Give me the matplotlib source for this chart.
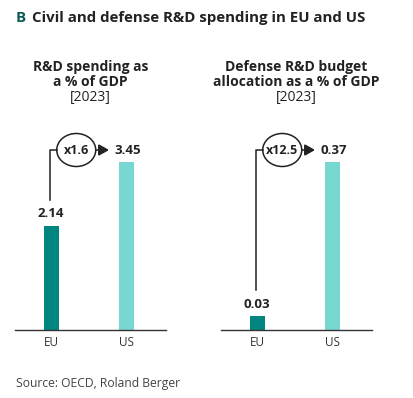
import matplotlib
matplotlib.use("Agg")
import matplotlib.pyplot as plt
from matplotlib.patches import Ellipse
from matplotlib.transforms import IdentityTransform

plt.rcParams['font.family'] = ['Open Sans', 'DejaVu Sans']

# data
regions = ["EU", "US"]
rd_gdp = [2.14, 3.45]
defense_rd_gdp = [0.03, 0.37]
ratios = ["x1.6", "x12.5"]
panel_titles = ["R&D spending as\na % of GDP", "Defense R&D budget\nallocation as a % of GDP"]
year = "[2023]"

EU_COL = "#00857f"
US_COL = "#79d7d1"
TXT = "#222222"

W, H = 414, 398
fig = plt.figure(figsize=(W / 100, H / 100), dpi=100)

def fx(px):
    return px / W

def fy(py):
    return 1 - py / H

fig.text(fx(16), fy(18), "B", color="#0d5c58", fontsize=10.8, fontweight="bold", va="center")
fig.text(fx(32), fy(18), "Civil and defense R&D spending in EU and US", color=TXT,
         fontsize=10.8, fontweight="bold", va="center")

# axes: baseline at y=330 px, top at 130 px
ax_bottom = fy(330)
ax_h = 200 / H
lefts = [15, 221]
ymax = [200 / (168 / 3.45), 200 / (168 / 0.37)]

panels = [rd_gdp, defense_rd_gdp]
for i, vals in enumerate(panels):
    ax = fig.add_axes([fx(lefts[i]), ax_bottom, 151 / W, ax_h])
    ax.bar([0, 1], vals, width=0.2, color=[EU_COL, US_COL])
    ax.set_xlim(-0.48, 1.52)
    ax.set_ylim(0, ymax[i])
    for s in ["top", "right", "left"]:
        ax.spines[s].set_visible(False)
    ax.spines["bottom"].set_color("#333333")
    ax.spines["bottom"].set_linewidth(1.0)
    ax.set_yticks([])
    ax.set_xticks([0, 1])
    ax.set_xticklabels(regions, fontsize=8.5, color="#333333")
    ax.tick_params(axis="x", length=0, pad=4)

    cx = lefts[i] + 75.5
    fig.text(fx(cx), fy(74.5), panel_titles[i], ha="center", va="center", fontsize=10,
             fontweight="bold", color=TXT, linespacing=1.05)
    fig.text(fx(cx), fy(97), year, ha="center", va="center", fontsize=10, color=TXT)

    # value labels and connector in display pixels
    tr = ax.transData
    eu_x, eu_top = tr.transform((0, vals[0]))
    us_x, us_top = tr.transform((1, vals[1]))
    ax.annotate(f"{vals[0]:.2f}", (0, vals[0]), xytext=(0, 12), textcoords="offset pixels",
                ha="center", va="center", fontsize=9.5, fontweight="bold", color=TXT)
    line_y = us_top + 12
    ax.annotate(f"{vals[1]:.2f}", (1, vals[1]), xytext=(1, 12), textcoords="offset pixels",
                ha="center", va="center", fontsize=9.5, fontweight="bold", color=TXT)
    ccx = eu_x + 25
    rx = 19.5
    conn_x = eu_x - 1
    fig.lines.append(plt.Line2D([conn_x, conn_x, ccx - rx], [eu_top + 26, line_y, line_y],
                                color=TXT, lw=1.1, transform=IdentityTransform()))
    fig.patches.append(Ellipse((ccx, line_y), 2 * rx, 33, fill=False, edgecolor=TXT, lw=1.1,
                               transform=IdentityTransform()))
    fig.lines.append(plt.Line2D([ccx + rx, ccx + rx + 4], [line_y, line_y], color=TXT, lw=1.1,
                                transform=IdentityTransform()))
    fig.patches.append(plt.Polygon([[ccx + rx + 3, line_y + 5], [ccx + rx + 3, line_y - 5],
                                    [ccx + rx + 12, line_y]], color=TXT,
                                   transform=IdentityTransform()))
    fig.text(ccx / W, line_y / H, ratios[i], ha="center", va="center", fontsize=9,
             fontweight="bold", color=TXT)

fig.text(fx(16), fy(384), "Source: OECD, Roland Berger", fontsize=8.7, color="#444444", va="center")

fig.savefig("out.png", dpi=100)
